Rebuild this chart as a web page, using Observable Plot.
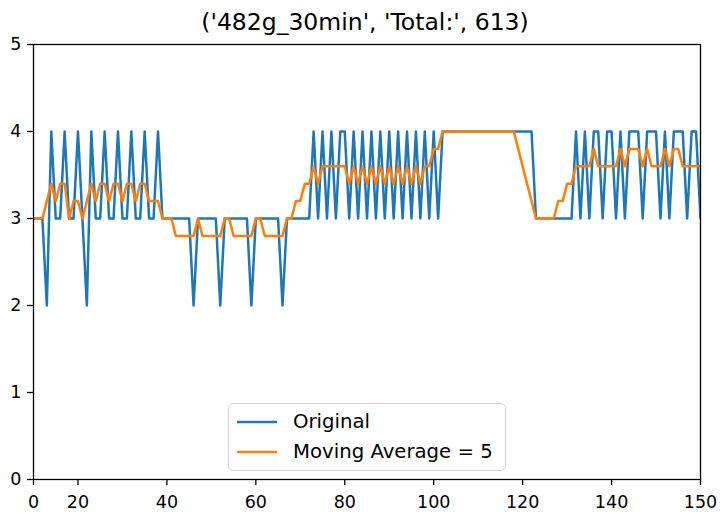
<!DOCTYPE html>
<html>
<head>
<meta charset="utf-8">
<script src="https://cdn.jsdelivr.net/npm/d3@7"></script>
<script src="https://cdn.jsdelivr.net/npm/@observablehq/plot@0.6"></script>
<style>
  body { margin: 0; background: #fff; font-family: "DejaVu Sans", sans-serif; }
  #wrap { position: relative; width: 725px; height: 518px; overflow: hidden; }
  #title { height: 23px; padding-top: 11px; font-size: 23.5px; line-height: 1; color: #000;
           width: 730px; text-align: center; white-space: nowrap; }
  #legend { position: absolute; left: 228px; top: 403px; width: 276px; height: 66px;
            border: 1px solid #d3d3d3; border-radius: 5px; background: rgba(255,255,255,0.85);
            font-size: 19.7px; color: #000; }
  .row { position: absolute; left: 0; width: 276px; height: 24px; }
  .row svg { position: absolute; left: 7px; top: 0; }
  .row span { position: absolute; left: 64px; top: 1px; line-height: 22px; white-space: nowrap; }
</style>
</head>
<body>
<div id="wrap">
  <div id="title"></div>
  <div id="chart"></div>
  <div id="legend"></div>
</div>
<script>
// ---- data ----
const titleText = "('482g_30min', 'Total:', 613)";
const seriesNames = ["Original", "Moving Average = 5"];
const seriesColors = ["#1f77b4", "#ff7f0e"];

// original samples, index 0..154 (plot shows x 0..150)
const original = [
  3,3,3,2,4,3,3,4,3,3, 4,3,2,4,3,3,4,3,3,4,
  3,3,4,3,3,4,3,3,4,3, 3,3,3,3,3,3,2,3,3,3,
  3,3,2,3,3,3,3,3,3,2, 3,3,3,3,3,3,2,3,3,3,
  3,3,3,4,3,4,3,4,3,4, 4,3,4,3,4,3,4,3,4,3,
  4,3,4,3,4,3,4,3,4,3, 4,3,4,4,4,4,4,4,4,4,
  4,4,4,4,4,4,4,4,4,4, 4,4,4,3,3,3,3,3,3,3,
  3,3,4,3,4,3,4,4,3,4, 4,3,4,3,4,4,4,3,4,4,
  4,3,4,3,4,4,4,3,4,4, 3,4,3,4,4
];

// moving average (window 5) values, index 0..150
const movingAvg = [
  3.0,3.0,3.0,3.2,3.4,3.2,3.4,3.4,3.0,3.2, 3.2,3.0,3.2,3.4,3.2,3.4,3.4,3.2,3.4,3.4,
  3.2,3.4,3.4,3.2,3.4,3.4,3.2,3.2,3.2,3.0, 3.0,3.0,2.8,2.8,2.8,2.8,2.8,3.0,2.8,2.8,
  2.8,2.8,2.8,3.0,3.0,2.8,2.8,2.8,2.8,2.8, 3.0,3.0,2.8,2.8,2.8,2.8,2.8,3.0,3.0,3.2,
  3.2,3.4,3.4,3.6,3.4,3.6,3.6,3.6,3.6,3.6, 3.6,3.4,3.6,3.4,3.6,3.4,3.6,3.4,3.6,3.4,
  3.6,3.4,3.6,3.4,3.6,3.4,3.6,3.4,3.6,3.6, 3.8,3.8,4.0,4.0,4.0,4.0,4.0,4.0,4.0,4.0,
  4.0,4.0,4.0,4.0,4.0,4.0,4.0,4.0,4.0,3.8, 3.6,3.4,3.2,3.0,3.0,3.0,3.0,3.0,3.2,3.2,
  3.4,3.4,3.6,3.6,3.6,3.6,3.8,3.6,3.6,3.6, 3.6,3.6,3.8,3.6,3.8,3.8,3.8,3.6,3.8,3.6,
  3.6,3.6,3.8,3.6,3.8,3.8,3.6,3.6,3.6,3.6, 3.6
];

const xDomain = [0, 150];
const yDomain = [0, 5];
const xTickPositions = [0, 10, 30, 50, 70, 90, 110, 130, 150];
const xTickLabels = ["0", "20", "40", "60", "80", "100", "120", "140", "150"];
const yTicks = [0, 1, 2, 3, 4, 5];

// ---- build ----
document.getElementById("title").textContent = titleText;

const origData = original.map((v, i) => ({x: i, y: v}));
const maData = movingAvg.map((v, i) => ({x: i, y: v}));
const xLabelMap = new Map(xTickPositions.map((p, i) => [p, xTickLabels[i]]));

const chart = Plot.plot({
  width: 725,
  height: 484,
  marginLeft: 33,
  marginRight: 25,
  marginTop: 10,
  marginBottom: 39,
  style: {fontFamily: "DejaVu Sans, sans-serif", fontSize: "17.5px", color: "#000", background: "#fff", overflow: "visible"},
  x: {domain: xDomain},
  y: {domain: yDomain},
  marks: [
    Plot.lineY(origData, {x: "x", y: "y", stroke: seriesColors[0], strokeWidth: 2.5, clip: true}),
    Plot.lineY(maData, {x: "x", y: "y", stroke: seriesColors[1], strokeWidth: 2.5, clip: true}),
    Plot.frame({stroke: "#000", strokeWidth: 1.3}),
    Plot.axisX({ticks: xTickPositions, tickFormat: d => xLabelMap.get(d), tickSize: 6, tickPadding: 10, strokeWidth: 1.3, label: null}),
    Plot.axisY({ticks: yTicks, tickFormat: d => String(d), tickSize: 6, tickPadding: 6, strokeWidth: 1.3, label: null})
  ]
});
document.getElementById("chart").appendChild(chart);

// legend
const legend = document.getElementById("legend");
seriesNames.forEach((name, i) => {
  const row = document.createElement("div");
  row.className = "row";
  row.style.top = (6 + i * 30) + "px";
  row.innerHTML = `<svg width="42" height="24"><line x1="1" x2="41" y1="12" y2="12" stroke="${seriesColors[i]}" stroke-width="2.5"/></svg>`;
  const span = document.createElement("span");
  span.textContent = name;
  row.appendChild(span);
  legend.appendChild(row);
});
</script>
</body>
</html>
